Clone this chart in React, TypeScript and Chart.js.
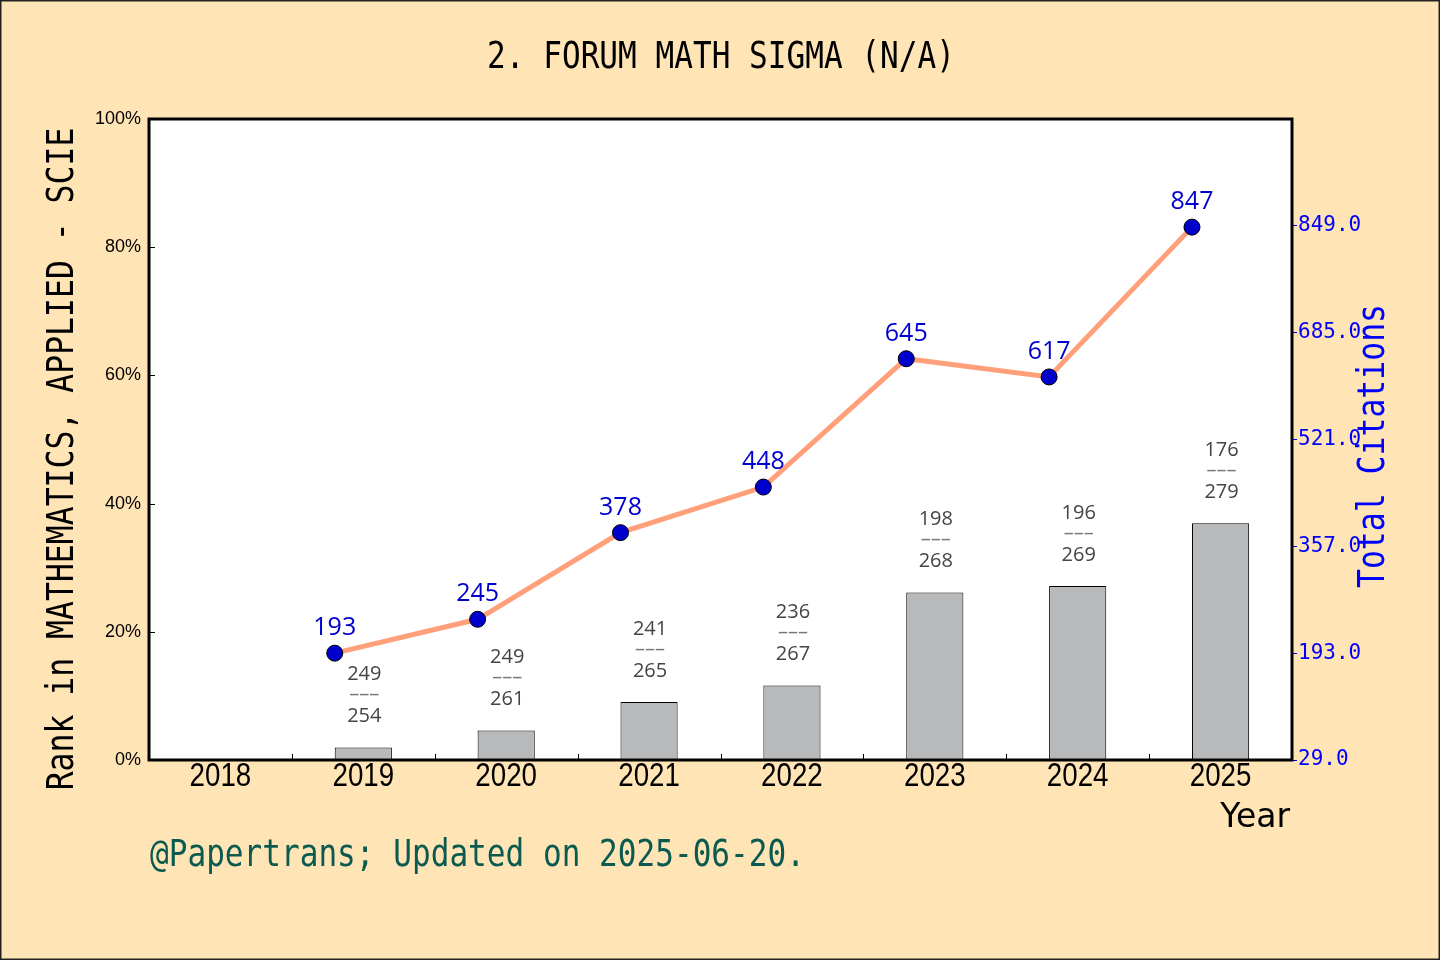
import React, { useEffect, useRef } from 'react';
import { Chart, registerables } from 'chart.js';

Chart.register(...registerables);

const years = ['2018', '2019', '2020', '2021', '2022', '2023', '2024', '2025'];
const rankPos = [null, 249, 249, 241, 236, 198, 196, 176];
const rankTotal = [null, 254, 261, 265, 267, 268, 269, 279];
const citations = [null, 193, 245, 378, 448, 645, 617, 847];
const pctTicks = [0, 20, 40, 60, 80, 100];

const titleText = '2. FORUM MATH SIGMA (N/A)';
const leftTitle = 'Rank in MATHEMATICS, APPLIED - SCIE';
const rightTitle = 'Total Citations';
const footerText = '@Papertrans; Updated on 2025-06-20.';

// bar height = share of journals ranked below
const rankShare = rankPos.map((p, i) =>
  p === null || rankTotal[i] === null ? null : (1 - p / (rankTotal[i] as number)) * 100
);

// citation points sit at the left edge of each bar (bar is 0.4 of a category wide)
const citePoints = citations
  .map((c, i) => (c === null ? null : { x: i - 0.2, y: c }))
  .filter((p) => p !== null) as { x: number; y: number }[];

const MONO = '"DejaVu Sans Mono", monospace';
const SANS = '"Liberation Sans", Arial, sans-serif';

function drawText(
  ctx: CanvasRenderingContext2D,
  text: string,
  x: number,
  y: number,
  font: string,
  color: string,
  align: CanvasTextAlign = 'center',
  sx = 1,
  rot = 0
) {
  ctx.save();
  ctx.translate(x, y);
  ctx.rotate(rot);
  ctx.scale(sx, 1);
  ctx.font = font;
  ctx.fillStyle = color;
  ctx.textAlign = align;
  ctx.textBaseline = 'middle';
  ctx.fillText(text, 0, 0);
  ctx.restore();
}

const decorPlugin = {
  id: 'decor',
  beforeDraw(chart: any) {
    const { ctx, width, height } = chart;
    ctx.save();
    ctx.fillStyle = '#ffe4b5';
    ctx.fillRect(0, 0, width, height);
    const a = chart.chartArea;
    ctx.fillStyle = '#ffffff';
    ctx.fillRect(a.left, a.top, a.right - a.left, a.bottom - a.top);
    ctx.restore();
  },
  afterDatasetsDraw(chart: any) {
    const { ctx, width, height } = chart;
    const a = chart.chartArea;
    const x = chart.scales.x;
    const y = chart.scales.y;

    ctx.save();
    // inward ticks
    ctx.strokeStyle = '#000';
    ctx.lineWidth = 1;
    ctx.beginPath();
    for (let i = 0; i < years.length - 1; i++) {
      const bx = Math.round((x.getPixelForValue(i) + x.getPixelForValue(i + 1)) / 2) + 0.5;
      ctx.moveTo(bx, a.bottom);
      ctx.lineTo(bx, a.bottom - 6);
    }
    pctTicks.forEach((t) => {
      const ty = Math.round(y.getPixelForValue(t)) + 0.5;
      ctx.moveTo(a.left, ty);
      ctx.lineTo(a.left + 6, ty);
    });
    ctx.stroke();

    // plot frame
    ctx.lineWidth = 3;
    ctx.strokeRect(a.left, a.top, a.right - a.left, a.bottom - a.top);

    // year labels
    years.forEach((yr, i) => {
      drawText(ctx, yr, x.getPixelForValue(i), a.bottom + 17, `33px ${SANS}`, '#000', 'center', 0.84);
    });

    // bar labels
    const barMeta = chart.getDatasetMeta(0);
    barMeta.data.forEach((el: any, i: number) => {
      if (rankPos[i] === null) return;
      const base = el.y - 31;
      const f = '20px "Open Sans", sans-serif';
      drawText(ctx, String(rankPos[i]), el.x + 1, base - 42, f, '#444444');
      drawText(ctx, '–––', el.x + 1, base - 22, f, '#777777');
      drawText(ctx, String(rankTotal[i]), el.x + 1, base, f, '#444444');
    });

    // point labels
    const lineMeta = chart.getDatasetMeta(1);
    lineMeta.data.forEach((el: any, i: number) => {
      drawText(ctx, String(citePoints[i].y), el.x, el.y - 25, '25px "Open Sans", sans-serif', '#0000cd');
    });

    // titles
    drawText(ctx, titleText, 721, 58, `37px ${MONO}`, '#000', 'center', 0.84);
    drawText(ctx, leftTitle, 63, 459, `37px ${MONO}`, '#000', 'center', 0.85, -Math.PI / 2);
    drawText(ctx, rightTitle, 1374, 446, `37px ${MONO}`, '#0000ff', 'center', 0.85, -Math.PI / 2);
    drawText(ctx, 'Year', 1290, 818, '33px "DejaVu Sans", sans-serif', '#000', 'right');
    drawText(ctx, footerText, 150, 856, `37px ${MONO}`, '#0a5a50', 'left', 0.84);

    // outer border
    ctx.lineWidth = 1.5;
    ctx.strokeStyle = '#222';
    ctx.strokeRect(0.75, 0.75, width - 1.5, height - 1.5);
    ctx.restore();
  },
};

export default function App() {
  const canvasRef = useRef<HTMLCanvasElement>(null);

  useEffect(() => {
    document.body.style.margin = '0';
    if (!canvasRef.current) return;
    const chart = new Chart(canvasRef.current, {
      type: 'bar',
      data: {
        labels: years,
        datasets: [
          {
            type: 'bar',
            label: 'Rank',
            data: rankShare,
            xAxisID: 'x',
            yAxisID: 'y',
            backgroundColor: '#b8b9bb',
            borderColor: '#000000',
            borderWidth: 1,
            barPercentage: 0.4,
            categoryPercentage: 1.0,
            grouped: false,
            order: 2,
          },
          {
            type: 'line',
            label: 'Total Citations',
            data: citePoints as any,
            xAxisID: 'xl',
            yAxisID: 'y1',
            borderColor: '#ffa07a',
            borderWidth: 5,
            pointRadius: 8,
            pointBackgroundColor: '#0000cd',
            pointBorderColor: '#000000',
            pointBorderWidth: 1,
            order: 1,
          },
        ],
      },
      options: {
        responsive: false,
        devicePixelRatio: 1,
        animation: false,
        layout: { padding: { top: 119, left: 0, right: 0, bottom: 0 } },
        plugins: {
          legend: { display: false },
          title: { display: false },
          tooltip: { enabled: false },
        },
        scales: {
          x: {
            offset: true,
            grid: { display: false },
            border: { display: false },
            ticks: { display: false },
            afterFit: (s: any) => {
              s.height = 200;
            },
          },
          xl: {
            type: 'linear',
            display: false,
            offset: false,
            min: -0.5,
            max: years.length - 0.5,
          },
          y: {
            position: 'left',
            min: 0,
            max: 100,
            grid: { display: false, drawTicks: false },
            border: { display: false },
            ticks: {
              stepSize: 20,
              color: '#000',
              padding: 8,
              font: { family: SANS, size: 18 },
              callback: (v: any) => `${v}%`,
            },
            afterFit: (s: any) => {
              s.width = 149;
            },
          },
          y1: {
            position: 'right',
            min: 29,
            max: 1013,
            grid: {
              drawOnChartArea: false,
              drawTicks: true,
              tickLength: 5,
              tickColor: '#0000ff',
            },
            border: { display: false },
            ticks: {
              stepSize: 164,
              color: '#0000ff',
              padding: 1,
              font: { family: MONO, size: 21 },
              callback: (v: any) => Number(v).toFixed(1),
            },
            afterBuildTicks: (s: any) => {
              s.ticks = s.ticks.filter((t: any) => t.value < 1013);
            },
            afterFit: (s: any) => {
              s.width = 148;
            },
          },
        },
      },
      plugins: [decorPlugin],
    });
    return () => chart.destroy();
  }, []);

  return (
    <div style={{ width: 1440, height: 960 }}>
      <canvas ref={canvasRef} width={1440} height={960} />
    </div>
  );
}
